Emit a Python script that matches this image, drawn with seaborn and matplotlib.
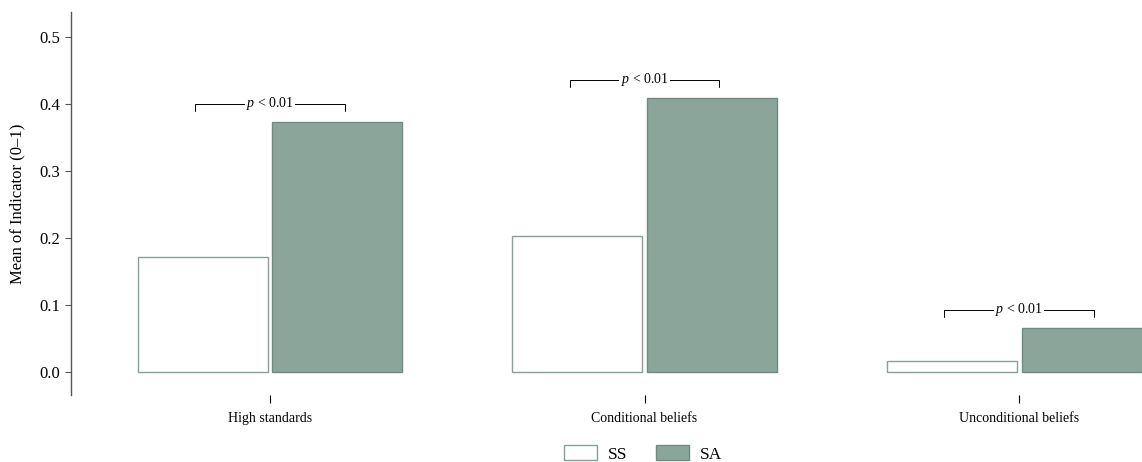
import pandas as pd
import numpy as np
import matplotlib.pyplot as plt
import seaborn as sns
from matplotlib.patches import Patch

# data
categories = ["High standards", "Conditional beliefs", "Unconditional beliefs"]
ss_means = [0.172, 0.203, 0.016]
sa_means = [0.373, 0.409, 0.066]
groups = ["SS", "SA"]
p_labels = ["p < 0.01", "p < 0.01", "p < 0.01"]

df = pd.DataFrame({
    "category": categories * 2,
    "group": ["SS"] * 3 + ["SA"] * 3,
    "mean": ss_means + sa_means,
})

sns.set_style("ticks")
plt.rcParams["font.family"] = ["Liberation Serif", "DejaVu Serif"]
plt.rcParams["mathtext.fontset"] = "custom"
plt.rcParams["mathtext.it"] = "Liberation Serif:italic"
plt.rcParams["mathtext.rm"] = "Liberation Serif"
plt.rcParams["text.color"] = "black"
plt.rcParams["xtick.color"] = "black"
plt.rcParams["ytick.color"] = "black"
plt.rcParams["axes.labelcolor"] = "black"

fill = "#8ba59b"
edge_sa = "#6f8c82"
edge_ss = "#87a197"

fig = plt.figure(figsize=(11.42, 4.62), dpi=100)
ax = fig.add_axes([0.0622, 0.145, 0.9378, 0.829])

sns.barplot(data=df, x="category", y="mean", hue="group", hue_order=groups,
            order=categories, palette=["white", fill], width=0.72, gap=0.036,
            legend=False, ax=ax)

n = len(categories)
for i, patch in enumerate(ax.patches):
    if i < n:
        patch.set_facecolor("white")
        patch.set_edgecolor(edge_ss)
    else:
        patch.set_facecolor(fill)
        patch.set_edgecolor(edge_sa)
    patch.set_linewidth(1.0)

# significance brackets
for i, (a, b, lab) in enumerate(zip(ss_means, sa_means, p_labels)):
    top = max(a, b) + 0.027
    x0, x1 = i - 0.2, i + 0.2
    ax.plot([x0, x0, x1, x1], [top - 0.011, top, top, top - 0.011],
            color="black", lw=0.7, clip_on=False)
    ax.text(i, top, r"$\it{p}$ < 0.01", ha="center", va="center", fontsize=10,
            bbox=dict(facecolor="white", edgecolor="none", pad=0.8))

ax.set_xlim(-0.531, 2.328)
ax.set_ylim(-0.034, 0.537)
ax.set_yticks([0.0, 0.1, 0.2, 0.3, 0.4, 0.5])
ax.set_yticklabels(["0.0", "0.1", "0.2", "0.3", "0.4", "0.5"], fontsize=12)
ax.set_ylabel("Mean of Indicator (0–1)", fontsize=12, labelpad=10)
ax.set_xlabel("")
ax.tick_params(axis="x", labelsize=10, length=6, width=0.8, color="black", pad=6)
ax.tick_params(axis="y", length=4, width=0.8, color="#555555", pad=4)

sns.despine(ax=ax, bottom=True, right=True, top=True)
ax.spines["left"].set_color("#555555")
ax.spines["left"].set_linewidth(1.0)

handles = [Patch(facecolor="white", edgecolor=edge_ss, label="SS"),
           Patch(facecolor=fill, edgecolor=edge_sa, label="SA")]
fig.legend(handles=handles, loc="lower center", bbox_to_anchor=(643 / 1142, -0.035),
           ncol=2, frameon=False, fontsize=12.5, handlelength=1.9, handleheight=1.0,
           columnspacing=1.6, handletextpad=0.65)

fig.savefig("out.png", dpi=100)
plt.close(fig)
